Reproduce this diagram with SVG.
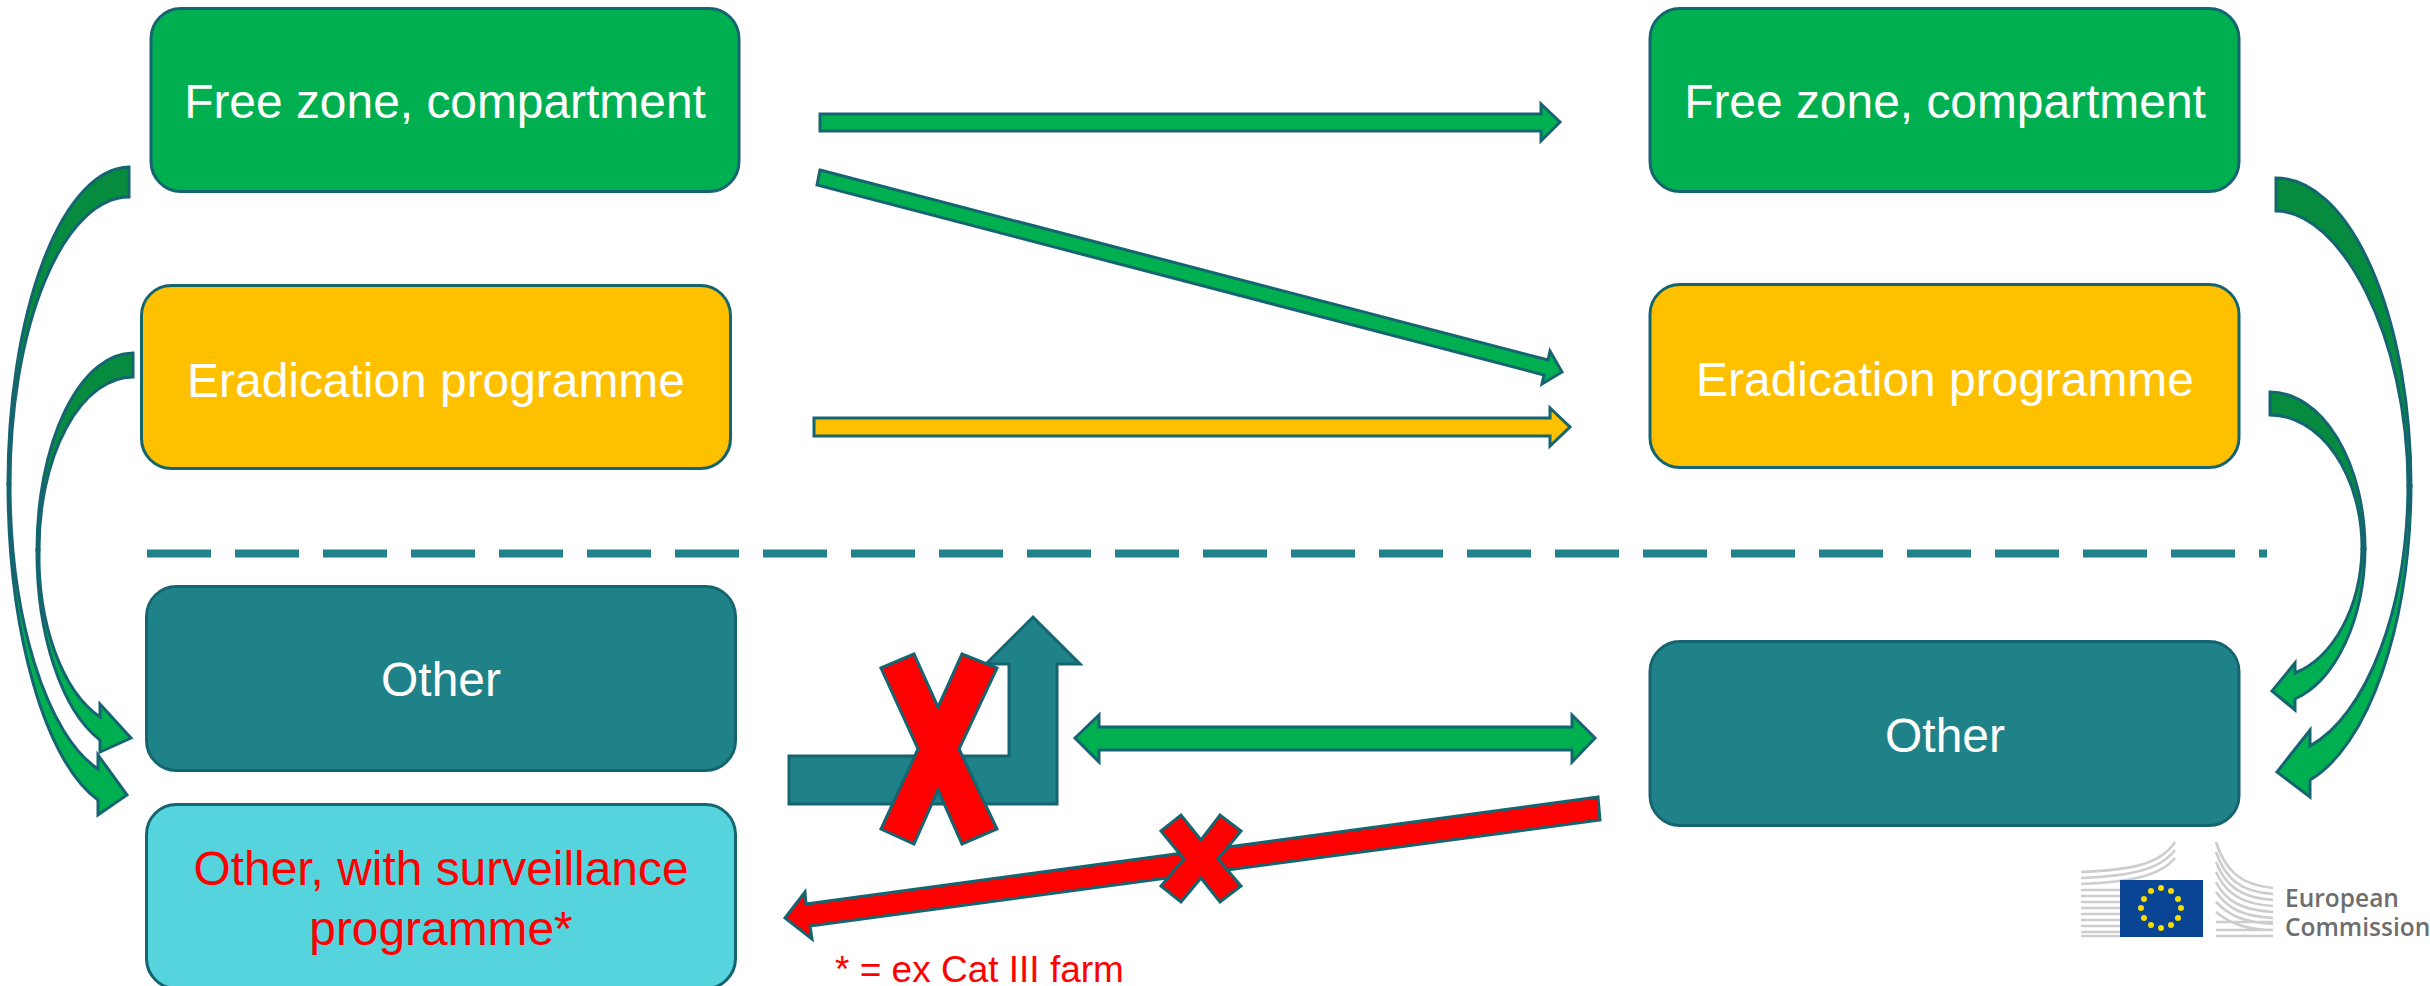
<svg xmlns="http://www.w3.org/2000/svg" width="2430" height="986" viewBox="0 0 2430 986">
<style>
.box{stroke:#156570;stroke-width:3}
.t{font-family:"Liberation Sans",Arial,sans-serif;font-size:47.9px;fill:#fff;text-anchor:middle}
.a{stroke:#156570;stroke-width:3;stroke-linejoin:miter}
.g{fill:#00B050}.d{fill:#068B3F}.y{fill:#FFC000}.tl{fill:#1F8289}.r{fill:#FF0000}
.b{stroke:#cdcdcd;stroke-width:2.6;fill:none}
.s{fill:#F5DC00}
.ec{font-family:"Open Sans","Noto Sans",sans-serif;font-size:24.5px;font-weight:600;fill:#6e6e6e}
</style>
<rect width="2430" height="986" fill="#fff"/>
<g id="connectors">
<g id="curve-left-outer"><path class="a d" d="M129,167 A122,317 0 0 0 8,484 L10,484 A119,286 0 0 1 129,197 Z"/><path class="a g" d="M8,484 A121,328 0 0 0 98,800 L98,815 L127,795 L98,755 L98,769 A119,295 0 0 1 10,484 Z"/></g>
<g id="curve-left-inner"><path class="a d" d="M133,353 A96,197 0 0 0 37,550 L39,550 A94,172 0 0 1 133,377 Z"/><path class="a g" d="M37,550 A96,200 0 0 0 100,740 L100,752 L131,738 L100,704 L100,717 A94,172 0 0 1 39,550 Z"/></g>
<g id="curve-right-outer"><path class="a d" d="M2276,178 A135,308 0 0 1 2411,486 L2408,486 C2408,335 2340,211 2276,211 Z"/><path class="a g" d="M2411,486 A135,308 0 0 1 2310,780 L2310,797 L2277,772 L2310,730 L2310,746 A133,272 0 0 0 2408,486 Z"/></g>
<g id="curve-right-inner"><path class="a d" d="M2270,392 A95,157 0 0 1 2365,549 L2362,549 A92,133 0 0 0 2270,415 Z"/><path class="a g" d="M2365,549 A95,158 0 0 1 2295,699 L2295,710 L2272,691 L2295,663 L2295,673 A92,133 0 0 0 2362,549 Z"/></g>
<path id="arrow-top" class="a g" d="M820,114 H1541 V104 L1560,122 L1541,141 V131 H820 Z"/>
<path id="arrow-diagonal" class="a g" d="M820,170 L1548,360 L1550,351 L1562,372 L1542,384 L1544,375 L817,185 Z"/>
<path id="arrow-yellow" class="a y" d="M814,418 H1550 V408 L1570,427 L1550,446 V436 H814 Z"/>
<path id="arrow-both" class="a g" d="M1075,738 L1099,715 V727 H1572 V715 L1595,738 L1572,762 V750 H1099 V762 Z"/>
<path id="arrow-elbow" class="a tl" d="M789,756 H1009 V664 H986 L1033,617 L1080,664 H1057 V804 H789 Z"/>
<path id="arrow-red" class="a r" d="M1598,797 L806,904 L805,892 L785,918 L812,939 L810,926 L1600,820 Z"/>
<path id="cross-big" class="a r" d="M881,668 L914,654 L938,707 L962,654 L997,668 L959,749 L997,829 L962,844 L938,790 L914,844 L881,829 L918,749 Z"/>
<path id="cross-small" class="a r" d="M1161,831 L1181,815 L1201,840 L1220,815 L1241,831 L1218,859 L1241,886 L1220,902 L1201,878 L1181,902 L1161,886 L1184,859 Z"/>
</g>
<g id="node-free-left"><rect class="box g" x="151" y="8.500" width="588" height="183" rx="30"/><text class="t" x="445" y="118">Free zone, compartment</text></g>
<g id="node-erad-left"><rect class="box y" x="141.500" y="285.500" width="589" height="183" rx="30"/><text class="t" x="436" y="397">Eradication programme</text></g>
<g id="node-other-left"><rect class="box tl" x="146.500" y="586.500" width="589" height="184" rx="30"/><text class="t" x="441" y="696">Other</text></g>
<g id="node-surv"><rect class="box" fill="#56D4DE" x="146.500" y="804.500" width="589" height="184" rx="30"/><text class="t" x="441" y="885" style="fill:#FF0000">Other, with surveillance</text><text class="t" x="441" y="945" style="fill:#FF0000">programme*</text></g>
<g id="node-free-right"><rect class="box g" x="1650" y="8.500" width="589" height="183" rx="30"/><text class="t" x="1945" y="118">Free zone, compartment</text></g>
<g id="node-erad-right"><rect class="box y" x="1650" y="284.500" width="589" height="183" rx="30"/><text class="t" x="1945" y="396">Eradication programme</text></g>
<g id="node-other-right"><rect class="box tl" x="1650" y="641.500" width="589" height="184" rx="30"/><text class="t" x="1945" y="752">Other</text></g>
<path id="divider" d="M147,553.500 H2267" stroke="#1F8289" stroke-width="8" stroke-dasharray="64,24" fill="none"/>
<text id="note" x="835" y="982" font-family="'Liberation Sans',Arial,sans-serif" font-size="37" fill="#FF0000">* = ex Cat III farm</text>
<g id="logo">
<path class="b" d="M2081,872 C2130,870 2160,865 2175,842 M2081,878 C2130,876 2160,870 2175,850 M2081,884 C2130,882 2160,876 2175,858 M2081,890 H2120 M2081,896 H2120 M2081,902 H2120 M2081,908 H2120 M2081,914 H2120 M2081,920 H2120 M2081,926 H2120 M2081,932 H2120 M2081,936 H2120"/>
<path class="b" d="M2216,842 C2225,870 2240,885 2273,888 M2216,852 C2225,878 2240,892 2273,894 M2216,862 C2225,885 2240,898 2273,900 M2216,872 C2225,892 2240,904 2273,906 M2216,882 C2225,900 2240,910 2273,912 M2216,892 C2228,908 2240,916 2273,918 M2216,902 C2228,914 2240,922 2273,924 M2216,912 C2230,924 2250,930 2273,930 M2216,922 H2273 M2216,930 H2273 M2216,936 H2273"/>
<rect x="2120" y="880" width="83" height="57" fill="#0A4595"/>
<g class="s"><circle cx="2161" cy="888" r="3"/><circle cx="2171" cy="891" r="3"/><circle cx="2178" cy="899" r="3"/><circle cx="2181" cy="908" r="3"/><circle cx="2178" cy="918" r="3"/><circle cx="2171" cy="925" r="3"/><circle cx="2161" cy="928" r="3"/><circle cx="2151" cy="925" r="3"/><circle cx="2144" cy="918" r="3"/><circle cx="2141" cy="908" r="3"/><circle cx="2144" cy="899" r="3"/><circle cx="2151" cy="891" r="3"/></g>
<text class="ec" x="2285" y="907">European</text>
<text class="ec" x="2285" y="936">Commission</text>
</g>
</svg>
